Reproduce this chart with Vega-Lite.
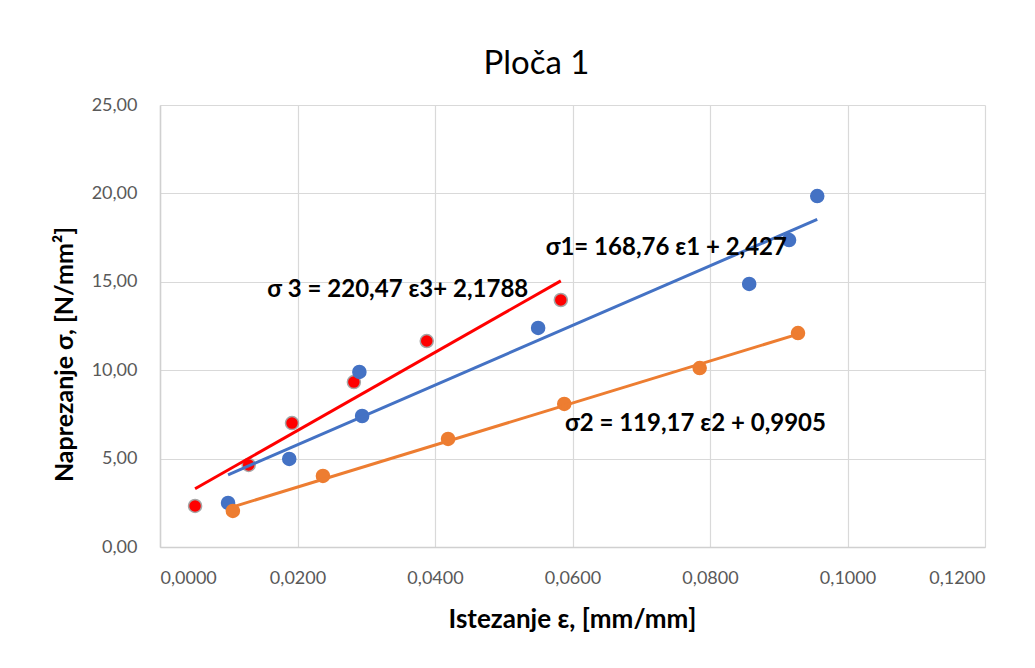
{
  "$schema": "https://vega.github.io/schema/vega-lite/v6.json",
  "autosize": {"type": "none"},
  "padding": {"left": 160, "top": 105, "right": 50, "bottom": 121},
  "width": 825,
  "height": 442,
  "background": "white",
  "config": {
    "view": {"stroke": null},
    "font": "Lato",
    "axis": {
      "grid": true,
      "gridColor": "#D9D9D9",
      "gridWidth": 1.2,
      "domainColor": "#D0D0D0",
      "domainWidth": 1.5,
      "ticks": false,
      "labelFont": "Lato",
      "labelFontSize": 18,
      "labelColor": "#595959",
      "titleFont": "Lato",
      "titleFontWeight": "bold",
      "titleColor": "#000000"
    }
  },
  "title": {
    "text": "Ploča 1",
    "font": "Lato",
    "fontSize": 33,
    "fontWeight": "normal",
    "color": "#000000",
    "anchor": "middle",
    "dx": -36,
    "dy": 38,
    "baseline": "alphabetic",
    "offset": 27
  },
  "datasets": {
    "pts": [
      {"series": "3", "eps": 0.0051, "sigma": 2.32},
      {"series": "3", "eps": 0.0129, "sigma": 4.64},
      {"series": "3", "eps": 0.0192, "sigma": 7.01},
      {"series": "3", "eps": 0.0282, "sigma": 9.33},
      {"series": "3", "eps": 0.0388, "sigma": 11.65},
      {"series": "3", "eps": 0.0583, "sigma": 13.97},
      {"series": "1", "eps": 0.0099, "sigma": 2.49},
      {"series": "1", "eps": 0.0188, "sigma": 4.98},
      {"series": "1", "eps": 0.0290, "sigma": 9.9},
      {"series": "1", "eps": 0.0294, "sigma": 7.41},
      {"series": "1", "eps": 0.0550, "sigma": 12.39},
      {"series": "1", "eps": 0.0857, "sigma": 14.88},
      {"series": "1", "eps": 0.0915, "sigma": 17.36},
      {"series": "1", "eps": 0.0956, "sigma": 19.85},
      {"series": "2", "eps": 0.0106, "sigma": 2.04},
      {"series": "2", "eps": 0.0237, "sigma": 4.02},
      {"series": "2", "eps": 0.0419, "sigma": 6.11},
      {"series": "2", "eps": 0.0588, "sigma": 8.09},
      {"series": "2", "eps": 0.0785, "sigma": 10.12},
      {"series": "2", "eps": 0.0928, "sigma": 12.1}
    ],
    "labels": [
      {"eps": 0.0156, "sigma": 14.54, "text": "σ 3 = 220,47 ε3+ 2,1788"},
      {"eps": 0.0561, "sigma": 16.91, "text": "σ1= 168,76  ε1 + 2,427"},
      {"eps": 0.0589, "sigma": 6.96, "text": "σ2 = 119,17  ε2 + 0,9905"}
    ]
  },
  "layer": [
    {
      "data": {"name": "pts"},
      "mark": {"type": "circle", "opacity": 1, "strokeWidth": 1.5},
      "encoding": {
        "x": {
          "field": "eps", "type": "quantitative",
          "scale": {"domain": [0, 0.12], "nice": false, "zero": false},
          "axis": {
            "values": [0, 0.02, 0.04, 0.06, 0.08, 0.1, 0.12],
            "labelExpr": "replace(format(datum.value, '.4f'), '.', ',')",
            "labelPadding": 22,
            "title": "Istezanje ε, [mm/mm]",
            "titleFontSize": 26,
            "titleX": 412,
            "titleY": 72,
            "titleBaseline": "middle",
            "titleAlign": "center"
          }
        },
        "y": {
          "field": "sigma", "type": "quantitative",
          "scale": {"domain": [0, 25], "nice": false},
          "axis": {
            "values": [0, 5, 10, 15, 20, 25],
            "labelExpr": "replace(format(datum.value, '.2f'), '.', ',')",
            "labelPadding": 23,
            "title": "Naprezanje σ, [N/mm²]",
            "titleFontSize": 25,
            "titleX": -96,
            "titleY": 249,
            "titleAngle": -90,
            "titleBaseline": "middle",
            "titleAlign": "center"
          }
        },
        "color": {
          "field": "series", "type": "nominal",
          "scale": {"domain": ["1", "2", "3"], "range": ["#4472C4", "#ED7D31", "#FF0000"]},
          "legend": null
        },
        "stroke": {
          "field": "series", "type": "nominal",
          "scale": {"domain": ["1", "2", "3"], "range": ["#4472C4", "#ED7D31", "#A6A6A6"]},
          "legend": null
        },
        "size": {
          "field": "series", "type": "nominal",
          "scale": {"domain": ["1", "2", "3"], "range": [170, 170, 110]},
          "legend": null
        }
      }
    },
    {
      "data": {"name": "pts"},
      "transform": [{"regression": "sigma", "on": "eps", "groupby": ["series"]}],
      "mark": {"type": "line", "strokeWidth": 3},
      "encoding": {
        "x": {"field": "eps", "type": "quantitative"},
        "y": {"field": "sigma", "type": "quantitative"},
        "color": {"field": "series", "type": "nominal", "legend": null}
      }
    },
    {
      "data": {"name": "labels"},
      "mark": {"type": "text", "align": "left", "baseline": "middle", "font": "Lato", "fontSize": 24, "fontWeight": "bold", "color": "#000000"},
      "encoding": {
        "x": {"field": "eps", "type": "quantitative"},
        "y": {"field": "sigma", "type": "quantitative"},
        "text": {"field": "text"}
      }
    }
  ]
}
